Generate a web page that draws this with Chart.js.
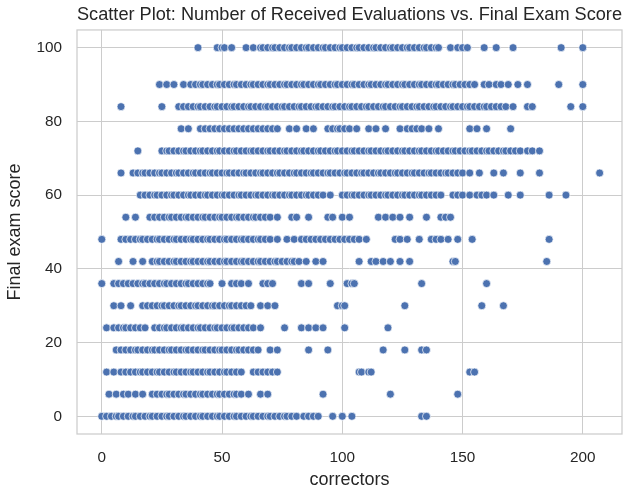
<!DOCTYPE html>
<html>
<head>
<meta charset="utf-8">
<script src="https://cdn.jsdelivr.net/npm/chart.js@4.4.1/dist/chart.umd.min.js"></script>
<style>
  html, body { margin: 0; padding: 0; background: #ffffff; }
  #wrap { width: 631px; height: 495px; }
</style>
</head>
<body>
<div id="wrap"><canvas id="scatterPlot" width="631" height="495"></canvas></div>
<script>
// number of correctors for each final exam score level
const x100 = [40, 48, 50, 51, 54, 60, 63, 66, 67, 69, 71, 72, 74, 76, 78, 79, 81, 83, 85, 86, 88, 90, 92, 93, 95, 97, 99, 100, 102, 104, 106, 107, 109, 111, 113, 114, 116, 118, 120, 121, 123, 125, 127, 128, 130, 132, 134, 135, 137, 139, 140, 145, 148, 150, 152, 159, 164, 171, 191, 200];
const x90 = [24, 27, 30, 34, 37, 39, 41, 42, 44, 46, 48, 49, 51, 53, 55, 56, 58, 60, 62, 63, 65, 67, 69, 70, 72, 74, 76, 77, 79, 81, 83, 84, 86, 88, 90, 91, 93, 95, 97, 98, 100, 102, 104, 105, 107, 109, 111, 112, 114, 116, 118, 119, 121, 123, 125, 126, 128, 130, 132, 133, 135, 137, 139, 140, 142, 144, 146, 147, 149, 151, 153, 155, 159, 161, 164, 166, 169, 173, 177, 190, 200];
const x84 = [8, 25, 32, 34, 36, 38, 40, 41, 43, 45, 47, 48, 50, 52, 54, 55, 57, 59, 61, 62, 64, 66, 68, 69, 71, 73, 75, 76, 78, 80, 82, 83, 85, 87, 89, 90, 92, 94, 96, 97, 99, 101, 103, 104, 106, 108, 110, 111, 113, 115, 117, 118, 120, 122, 124, 125, 127, 129, 131, 132, 134, 136, 138, 139, 141, 143, 145, 146, 148, 150, 152, 153, 155, 157, 159, 160, 162, 164, 166, 168, 171, 177, 179, 195, 200];
const x78 = [33, 36, 41, 43, 45, 47, 49, 51, 53, 55, 57, 59, 61, 63, 65, 67, 69, 71, 73, 78, 81, 85, 88, 94, 96, 98, 99, 101, 103, 106, 111, 114, 118, 124, 127, 129, 131, 133, 136, 140, 153, 156, 160, 170];
const x72 = [15, 25, 27, 28, 30, 32, 34, 35, 37, 39, 41, 42, 44, 46, 48, 49, 51, 53, 55, 56, 58, 60, 62, 63, 65, 67, 69, 70, 72, 74, 76, 77, 79, 81, 83, 84, 86, 88, 90, 91, 93, 95, 97, 98, 100, 102, 104, 105, 107, 109, 111, 112, 114, 116, 118, 119, 121, 123, 125, 126, 128, 130, 132, 133, 135, 137, 139, 140, 142, 144, 146, 147, 149, 151, 153, 154, 156, 158, 160, 161, 163, 165, 167, 168, 170, 172, 174, 177, 179, 182];
const x66 = [8, 13, 15, 17, 18, 20, 22, 24, 25, 27, 29, 31, 32, 34, 36, 38, 39, 41, 43, 45, 46, 48, 50, 52, 53, 55, 57, 59, 60, 62, 64, 66, 67, 69, 71, 73, 74, 76, 78, 80, 81, 83, 85, 87, 88, 90, 92, 94, 95, 97, 99, 101, 102, 104, 106, 108, 109, 111, 113, 115, 116, 118, 120, 122, 123, 125, 127, 129, 130, 132, 134, 136, 137, 139, 141, 143, 144, 146, 148, 150, 153, 157, 163, 167, 174, 182, 207];
const x60 = [16, 18, 20, 22, 23, 25, 27, 29, 30, 32, 34, 36, 37, 39, 41, 43, 44, 46, 48, 50, 51, 53, 55, 57, 58, 60, 62, 64, 65, 67, 69, 71, 72, 74, 76, 78, 79, 81, 83, 85, 86, 88, 90, 92, 95, 100, 102, 104, 105, 107, 109, 111, 112, 114, 116, 118, 119, 121, 123, 125, 126, 128, 130, 132, 133, 135, 137, 139, 141, 146, 148, 150, 153, 156, 158, 160, 163, 169, 174, 186, 193];
const x54 = [10, 14, 20, 22, 24, 26, 28, 29, 31, 33, 35, 36, 38, 40, 42, 43, 45, 47, 49, 50, 52, 54, 56, 57, 59, 61, 63, 64, 66, 68, 70, 73, 79, 81, 86, 94, 96, 100, 103, 115, 118, 121, 124, 128, 135, 141, 143, 145];
const x48 = [0, 8, 10, 12, 14, 16, 17, 19, 21, 23, 24, 26, 28, 30, 31, 33, 35, 37, 38, 40, 42, 44, 45, 47, 49, 51, 52, 54, 56, 58, 59, 61, 63, 65, 66, 68, 70, 73, 77, 80, 83, 85, 87, 89, 91, 93, 95, 97, 99, 101, 103, 105, 107, 110, 122, 124, 127, 132, 137, 139, 141, 144, 148, 154, 186];
const x42 = [7, 13, 17, 21, 23, 24, 26, 28, 30, 31, 33, 35, 37, 38, 40, 42, 44, 45, 47, 49, 51, 52, 54, 56, 58, 59, 61, 63, 65, 66, 68, 70, 72, 73, 75, 77, 79, 80, 82, 85, 89, 92, 107, 112, 114, 117, 120, 124, 128, 146, 147, 185];
const x36 = [0, 5, 7, 9, 11, 13, 15, 17, 18, 20, 22, 24, 26, 27, 29, 31, 33, 35, 36, 38, 40, 42, 44, 45, 50, 54, 56, 58, 61, 67, 69, 71, 83, 86, 95, 102, 104, 105, 133, 160];
const x30 = [5, 8, 12, 17, 19, 21, 23, 25, 26, 28, 30, 32, 33, 35, 37, 39, 40, 42, 44, 46, 47, 49, 51, 53, 54, 56, 58, 60, 62, 66, 69, 72, 98, 100, 101, 126, 158, 167];
const x24 = [2, 5, 7, 9, 10, 12, 14, 16, 18, 22, 24, 26, 27, 29, 31, 33, 34, 36, 38, 40, 41, 43, 45, 47, 48, 50, 52, 54, 55, 57, 59, 61, 63, 66, 76, 83, 86, 89, 92, 101, 119];
const x18 = [6, 8, 10, 12, 14, 15, 17, 19, 21, 22, 24, 26, 28, 29, 31, 33, 35, 36, 38, 40, 42, 43, 45, 47, 49, 50, 52, 54, 56, 57, 59, 61, 63, 65, 70, 73, 86, 94, 117, 126, 133, 135];
const x12 = [2, 5, 8, 10, 12, 14, 16, 17, 19, 21, 23, 24, 26, 28, 30, 31, 33, 35, 37, 38, 40, 42, 44, 45, 47, 49, 51, 52, 54, 56, 58, 63, 65, 67, 69, 71, 73, 107, 108, 111, 112, 153, 155];
const x6 = [3, 6, 9, 11, 14, 17, 21, 23, 25, 27, 28, 30, 32, 34, 35, 37, 39, 41, 42, 44, 46, 48, 49, 51, 53, 55, 56, 58, 61, 66, 69, 92, 120, 148];
const x0 = [0, 2, 4, 6, 7, 9, 11, 13, 14, 16, 18, 20, 21, 23, 25, 27, 28, 30, 32, 34, 35, 37, 39, 41, 42, 44, 46, 48, 49, 51, 53, 55, 56, 58, 60, 62, 63, 65, 67, 69, 70, 72, 74, 76, 77, 79, 81, 84, 86, 88, 90, 96, 100, 104, 133, 135];

const scoreLevels = [100, 90, 84, 78, 72, 66, 60, 54, 48, 42, 36, 30, 24, 18, 12, 6, 0];
const correctorRows = [x100, x90, x84, x78, x72, x66, x60, x54, x48, x42, x36, x30, x24, x18, x12, x6, x0];

const xTicks = [0, 50, 100, 150, 200];
const yTicks = [0, 20, 40, 60, 80, 100];

// one point per (correctors, score) pair
const points = [];
scoreLevels.forEach((score, i) => {
  correctorRows[i].forEach(x => points.push({ x: x, y: score }));
});

const gridColor = '#cccccc';
const textColor = '#262626';
Chart.defaults.font.family = "'Liberation Sans', Arial, sans-serif";
Chart.defaults.color = textColor;

// seaborn style frame round the plot area
const framePlugin = {
  id: 'frame',
  beforeDatasetsDraw(chart) {
    const { ctx, chartArea: a } = chart;
    ctx.save();
    ctx.strokeStyle = gridColor;
    ctx.lineWidth = 1.25;
    ctx.strokeRect(a.left, a.top, a.right - a.left, a.bottom - a.top);
    ctx.restore();
  }
};

new Chart(document.getElementById('scatterPlot'), {
  type: 'scatter',
  data: {
    datasets: [{
      label: 'Final exam score',
      data: points,
      backgroundColor: '#4c72b0',
      borderColor: '#ffffff',
      borderWidth: 0.7,
      pointRadius: 4,
      pointHoverRadius: 4
    }]
  },
  options: {
    responsive: false,
    animation: false,
    events: [],
    layout: { padding: { left: 0, right: 9, top: 0, bottom: 0 } },
    plugins: {
      legend: { display: false },
      tooltip: { enabled: false },
      title: {
        display: true,
        text: 'Scatter Plot: Number of Received Evaluations vs. Final Exam Score',
        fullSize: false,
        color: textColor,
        font: { size: 18.3, weight: 'normal' },
        padding: { top: 4, bottom: 4 }
      }
    },
    scales: {
      x: {
        type: 'linear',
        position: 'bottom',
        min: -10.3,
        max: 216.3,
        afterBuildTicks: s => { s.ticks = xTicks.map(v => ({ value: v })); },
        afterFit: s => { s.height = 61; },
        grid: { color: gridColor, lineWidth: 1, drawTicks: false },
        border: { display: false },
        ticks: { padding: 15, color: textColor, font: { size: 15.3 } },
        title: {
          display: true,
          text: 'correctors',
          color: textColor,
          font: { size: 18 },
          padding: { top: 0, bottom: 3.8 }
        }
      },
      y: {
        type: 'linear',
        min: -4.8,
        max: 104.8,
        afterBuildTicks: s => { s.ticks = yTicks.map(v => ({ value: v })); },
        afterFit: s => { s.width = 77; },
        grid: { color: gridColor, lineWidth: 1, drawTicks: false },
        border: { display: false },
        ticks: { padding: 15, color: textColor, font: { size: 15.3 } },
        title: {
          display: true,
          text: 'Final exam score',
          color: textColor,
          font: { size: 18 },
          padding: { top: 3.9, bottom: 0 }
        }
      }
    }
  },
  plugins: [framePlugin]
});
</script>
</body>
</html>
